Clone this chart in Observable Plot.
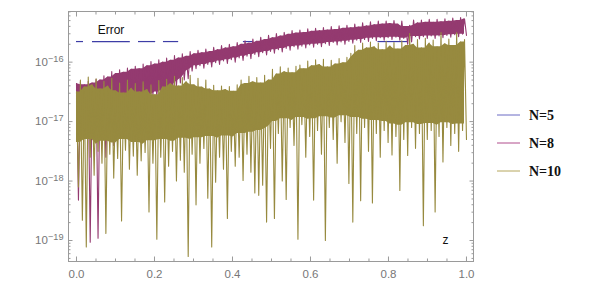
<!DOCTYPE html>
<html><head><meta charset="utf-8">
<script src="https://cdn.jsdelivr.net/npm/d3@7"></script>
<script src="https://cdn.jsdelivr.net/npm/@observablehq/plot@0.6"></script>
<style>
body{margin:0;background:#fff;}
#wrap{position:relative;width:593px;height:286px;}
</style></head><body><div id="wrap"></div>
<script>
// ---- data (log10 of the error values) ----
const seriesNames = ["N=5", "N=8", "N=10"];
const xTicks = [0, 0.2, 0.4, 0.6, 0.8, 1.0];
const yTicks = [1e-19, 1e-18, 1e-17, 1e-16];
// N=5 : error equal to machine epsilon on these z intervals, zero elsewhere
const n5Level = 2.22e-16;
const n5Segments = [[0, 0.018], [0.041, 0.138], [0.159, 0.203], [0.223, 0.262], [0.428, 0.454], [0.773, 0.851]];
// N=8 : peaks, dense-band lower edge, and troughs of the oscillating error (log10)
const n8Hi = [-16.36,-16.33,-16.38,-16.32,-16.35,-16.29,-16.30,-16.23,-16.25,-16.16,
-16.19,-16.13,-16.17,-16.10,-16.12,-16.07,-16.11,-16.03,-16.06,-15.99,
-16.03,-15.96,-16.00,-15.93,-15.97,-15.89,-15.93,-15.86,-15.90,-15.82,
-15.86,-15.80,-15.84,-15.78,-15.82,-15.75,-15.79,-15.72,-15.76,-15.70,
-15.74,-15.67,-15.70,-15.64,-15.68,-15.61,-15.65,-15.58,-15.62,-15.55,
-15.59,-15.52,-15.56,-15.50,-15.53,-15.47,-15.51,-15.46,-15.50,-15.44,
-15.48,-15.43,-15.47,-15.42,-15.46,-15.40,-15.45,-15.39,-15.43,-15.38,
-15.42,-15.36,-15.41,-15.34,-15.39,-15.32,-15.37,-15.31,-15.36,-15.31,
-15.35,-15.30,-15.36,-15.31,-15.40,-15.38,-15.29,-15.34,-15.29,-15.33,
-15.28,-15.33,-15.28,-15.32,-15.27,-15.31,-15.26,-15.30,-15.25,-15.27];
const n8Core = [-16.75,-16.70,-16.80,-16.72,-16.78,-16.70,-16.76,-16.72,-16.74,-16.70,
-16.70,-16.72,-16.68,-16.70,-16.65,-16.68,-16.66,-16.60,-16.62,-16.55,
-16.58,-16.50,-16.52,-16.45,-16.48,-16.40,-16.35,-16.30,-16.25,-16.15,
-16.11,-16.06,-16.10,-16.04,-16.08,-16.01,-16.04,-15.98,-16.02,-15.96,
-16.00,-15.93,-15.97,-15.90,-15.94,-15.87,-15.91,-15.84,-15.88,-15.82,
-15.85,-15.79,-15.83,-15.77,-15.80,-15.74,-15.78,-15.73,-15.76,-15.71,
-15.75,-15.70,-15.74,-15.69,-15.72,-15.67,-15.71,-15.66,-15.70,-15.65,
-15.68,-15.63,-15.67,-15.62,-15.65,-15.60,-15.64,-15.59,-15.63,-15.59,
-15.62,-15.58,-15.63,-15.60,-15.70,-15.66,-15.57,-15.61,-15.57,-15.60,
-15.56,-15.60,-15.56,-15.59,-15.55,-15.58,-15.54,-15.57,-15.53,-15.55];
const n8Lo = [-18.32,-16.90,-17.10,-19.03,-16.80,-18.96,-16.90,-17.60,-16.80,-17.40,
-16.70,-16.80,-16.70,-16.75,-16.65,-16.70,-17.08,-16.60,-16.65,-16.55,
-16.60,-16.50,-16.55,-16.45,-16.50,-16.40,-16.35,-16.30,-16.28,-16.15,
-16.11,-16.06,-16.10,-16.04,-16.08,-16.01,-16.04,-15.98,-16.02,-15.96,
-16.00,-15.93,-15.97,-15.90,-15.94,-15.87,-15.91,-15.84,-15.88,-15.82,
-15.85,-15.79,-15.83,-15.77,-15.80,-15.74,-15.78,-15.73,-15.76,-15.71,
-15.75,-15.70,-15.74,-15.69,-15.72,-15.67,-15.71,-15.66,-15.70,-15.65,
-15.68,-15.63,-15.67,-15.62,-15.65,-15.60,-15.64,-15.59,-15.63,-15.59,
-15.62,-15.58,-15.63,-15.60,-15.70,-15.66,-15.57,-15.61,-15.57,-15.60,
-15.56,-15.60,-15.56,-15.59,-15.55,-15.58,-15.54,-15.57,-15.53,-15.55];
// N=10
const n10Hi = [-16.50,-16.30,-16.42,-16.25,-16.38,-16.28,-16.45,-16.32,-16.40,-16.27,
-16.48,-16.35,-16.52,-16.30,-16.44,-16.36,-16.50,-16.33,-16.46,-16.38,
-16.55,-16.31,-16.42,-16.29,-16.36,-16.24,-16.40,-16.26,-16.33,-16.22,
-16.38,-16.27,-16.42,-16.30,-16.45,-16.39,-16.48,-16.40,-16.46,-16.41,
-16.49,-16.38,-16.30,-16.36,-16.24,-16.33,-16.26,-16.35,-16.22,-16.30,
-16.12,-16.20,-16.08,-16.16,-16.10,-16.18,-16.07,-16.05,-16.11,-15.98,
-16.06,-15.96,-16.04,-15.95,-16.08,-15.97,-16.03,-15.94,-16.01,-15.92,
-15.85,-15.72,-15.80,-15.68,-15.76,-15.66,-15.74,-15.68,-15.79,-15.65,
-15.73,-15.67,-15.78,-15.64,-15.72,-15.52,-15.70,-15.62,-15.76,-15.60,
-15.68,-15.63,-15.74,-15.50,-15.69,-15.61,-15.72,-15.50,-15.66,-15.62];
const n10Core = [-17.40,-17.35,-17.45,-17.30,-17.42,-17.38,-17.48,-17.33,-17.40,-17.45,
-17.36,-17.44,-17.30,-17.40,-17.47,-17.35,-17.42,-17.38,-17.45,-17.32,
-17.40,-17.36,-17.30,-17.44,-17.38,-17.33,-17.41,-17.28,-17.36,-17.30,
-17.34,-17.27,-17.38,-17.30,-17.25,-17.33,-17.28,-17.36,-17.24,-17.30,
-17.32,-17.26,-17.20,-17.28,-17.22,-17.18,-17.25,-17.15,-17.20,-17.12,
-17.08,-17.00,-17.05,-16.95,-17.02,-16.98,-17.06,-16.93,-17.00,-16.96,
-17.04,-16.95,-17.00,-16.92,-16.98,-17.02,-16.94,-16.99,-16.90,-16.97,
-17.00,-16.93,-17.05,-16.96,-17.02,-17.08,-16.98,-17.06,-17.00,-17.10,
-17.04,-17.12,-17.06,-17.15,-17.08,-17.02,-17.12,-17.05,-17.14,-17.08,
-17.03,-17.10,-17.06,-17.15,-17.02,-17.10,-17.05,-17.12,-17.04,-17.08];
const n10Lo = [-18.10,-18.66,-19.11,-17.60,-17.90,-17.50,-17.70,-18.88,-17.55,-17.95,
-17.62,-18.67,-17.48,-17.80,-17.58,-17.90,-17.66,-17.52,-18.52,-17.70,
-18.98,-17.60,-18.35,-17.75,-17.50,-18.00,-17.65,-17.85,-19.27,-17.55,
-18.40,-17.70,-17.45,-18.29,-19.11,-18.02,-17.60,-17.80,-18.63,-17.50,
-17.75,-17.60,-17.99,-17.55,-17.85,-18.20,-18.24,-18.07,-18.69,-17.45,
-18.63,-17.20,-18.00,-18.31,-17.10,-17.40,-18.98,-17.05,-17.60,-17.25,
-18.32,-17.15,-17.55,-19.00,-17.10,-17.30,-17.70,-17.00,-17.35,-18.04,
-18.69,-17.20,-18.33,-17.10,-17.50,-18.37,-17.20,-17.60,-17.15,-17.35,
-17.56,-17.25,-18.16,-17.30,-17.57,-17.10,-17.45,-17.20,-18.75,-17.30,
-17.15,-18.52,-17.25,-17.68,-17.10,-17.40,-17.20,-17.50,-17.15,-17.30];

// ---- styles ----
const colors = ["#3d3da6", "#943a70", "#978a3f"];
const legendColors = ["#6a6ac4", "#b04d8c", "#b5a65c"];
const axisGray = "#9a9a9a";
const labelGray = "#777777";

// ---- build tables ----
function zigzag(hi, lo) {
  const n = hi.length * 2;
  const out = [];
  hi.forEach((v, i) => {
    out.push({x: (2 * i) / (n - 1), y: Math.pow(10, v)});
    out.push({x: (2 * i + 1) / (n - 1), y: Math.pow(10, lo[i])});
  });
  return out;
}
// dense inner band: below the lowest neighbouring peak, above the highest neighbouring band edge
function band(hi, core) {
  const n = hi.length * 2;
  const at = (a, i) => a[Math.max(0, Math.min(a.length - 1, i))];
  return hi.map((v, i) => {
    const top = Math.min(at(hi, i - 1), v, at(hi, i + 1));
    const bot = Math.max(at(core, i - 1), core[i], at(core, i + 1));
    return {x: (2 * i) / (n - 1), y2: Math.pow(10, top), y1: Math.pow(10, Math.min(bot, top))};
  });
}
const n8Data = zigzag(n8Hi, n8Lo);
const n10Data = zigzag(n10Hi, n10Lo);
const n8Band = band(n8Hi, n8Core);
const n10Band = band(n10Hi, n10Core);
const n5Data = n5Segments.map(([a, b]) => ({x1: a, x2: b, y: n5Level}));

const xMinor = d3.range(0, 1.0001, 0.05).filter(v => Math.abs(v * 5 - Math.round(v * 5)) > 1e-6);
const yDomain = [Math.pow(10, -19.353), Math.pow(10, -15.148)];
const yMinor = [-20, -19, -18, -17, -16].flatMap(k => [2,3,4,5,6,7,8,9].map(m => m * Math.pow(10, k)))
  .filter(v => v >= yDomain[0] && v <= yDomain[1]);

const plot = Plot.plot({
  width: 593, height: 286,
  marginLeft: 68, marginRight: 120, marginTop: 11, marginBottom: 25,
  style: {fontFamily: "'Liberation Sans', Arial, sans-serif", background: "white", overflow: "visible"},
  x: {domain: [-0.0205, 1.018]},
  y: {type: "log", domain: yDomain},
  marks: [
    Plot.ruleY(n5Data, {x1: "x1", x2: "x2", y: "y", stroke: colors[0], strokeWidth: 1.2}),
    Plot.areaY(n8Band, {x: "x", y1: "y1", y2: "y2", fill: colors[1]}),
    Plot.line(n8Data, {x: "x", y: "y", stroke: colors[1], strokeWidth: 1.1}),
    Plot.areaY(n10Band, {x: "x", y1: "y1", y2: "y2", fill: colors[2]}),
    Plot.line(n10Data, {x: "x", y: "y", stroke: colors[2], strokeWidth: 1.1}),
    Plot.text(["Error"], {x: 0.0885, y: 3.45e-16, text: d => d, fontSize: 12, fill: "#111"}),
    Plot.text(["z"], {x: 0.946, y: 1.0e-19, text: d => d, fontSize: 12, fill: "#111"}),
    Plot.frame({stroke: axisGray}),
    Plot.axisX(xTicks, {anchor: "bottom", tickSize: -4.5, stroke: axisGray, fill: "none", label: null}),
    Plot.axisX(xMinor, {anchor: "bottom", tickSize: -2.5, stroke: axisGray, fill: "none", label: null}),
    Plot.axisX(xTicks, {anchor: "top", tickSize: -4.5, stroke: axisGray, fill: "none", label: null}),
    Plot.axisX(xMinor, {anchor: "top", tickSize: -2.5, stroke: axisGray, fill: "none", label: null}),
    Plot.axisY(yTicks, {anchor: "left", tickSize: -4.5, stroke: axisGray, fill: "none", label: null}),
    Plot.axisY(yMinor, {anchor: "left", tickSize: -2.5, stroke: axisGray, fill: "none", label: null}),
    Plot.axisY(yTicks, {anchor: "right", tickSize: -4.5, stroke: axisGray, fill: "none", label: null}),
    Plot.axisY(yMinor, {anchor: "right", tickSize: -2.5, stroke: axisGray, fill: "none", label: null}),
    Plot.axisX(xTicks, {anchor: "bottom", tickSize: 0, tickPadding: 8, tickFormat: d => d.toFixed(1), fill: labelGray, fontSize: 11.5, label: null}),
    Plot.axisY(yTicks, {anchor: "left", tickSize: 0, tickPadding: 5, tickFormat: d => "10|\u2212" + Math.round(-Math.log10(d)), fill: labelGray, fontSize: 11.5, label: null})
  ]
});
document.getElementById("wrap").appendChild(plot);

// superscript exponents on the y tick labels
d3.select(plot).selectAll('g[aria-label="y-axis tick label"] text').each(function () {
  const t = this.textContent;
  if (t.indexOf("|") < 0) return;
  const [b, e] = t.split("|");
  const s = d3.select(this);
  s.text(null);
  s.append("tspan").text(b);
  s.append("tspan").attr("dy", "-0.42em").attr("font-size", "0.8em").text(e);
});

// legend at the right
const leg = d3.select("#wrap").append("svg")
  .attr("width", 593).attr("height", 286)
  .style("position", "absolute").style("left", "0px").style("top", "0px");
seriesNames.forEach((name, i) => {
  const y = 115 + 28 * i;
  leg.append("line").attr("x1", 497).attr("x2", 520).attr("y1", y).attr("y2", y)
    .attr("stroke", legendColors[i]).attr("stroke-width", 1);
  leg.append("text").attr("x", 529).attr("y", y).attr("dy", "0.35em")
    .attr("font-family", "'Liberation Serif', 'Times New Roman', serif")
    .attr("font-weight", "bold").attr("font-size", 14).attr("fill", "#111").text(name);
});
</script></body></html>
